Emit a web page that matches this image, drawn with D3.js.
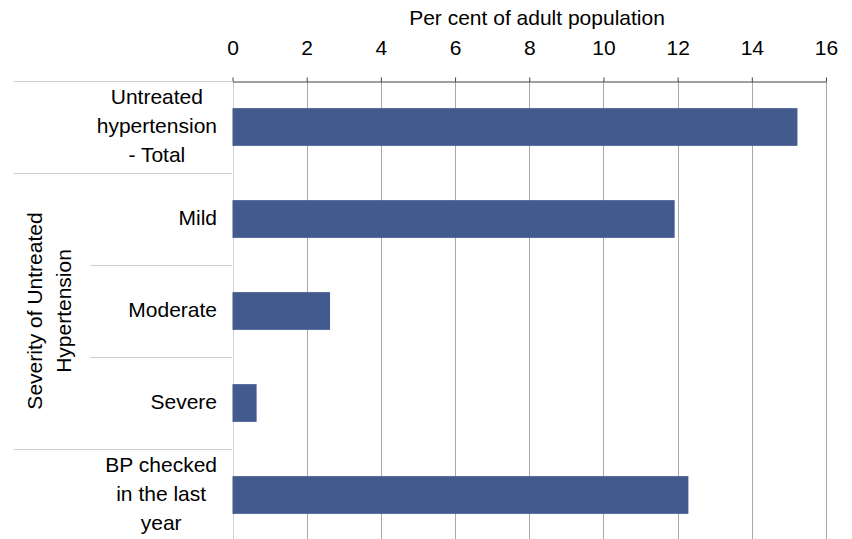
<!DOCTYPE html>
<html>
<head>
<meta charset="utf-8">
<script src="https://cdn.jsdelivr.net/npm/d3@7"></script>
<style>
  body { margin: 0; background: #fff; }
  #chart text { font-family: "Liberation Sans", Arial, sans-serif; fill: #000; }
</style>
</head>
<body>
<div id="chart"></div>
<script>
// || DATA ||
var categories = ["total", "mild", "moderate", "severe", "bp"];
var labelLines = [
  ["Untreated", "hypertension", "- Total"],
  ["Mild"],
  ["Moderate"],
  ["Severe"],
  ["BP checked", "in the last", "year"]
];
var values = [15.23, 11.92, 2.63, 0.65, 12.29];
var tickValues = [0, 2, 4, 6, 8, 10, 12, 14, 16];
var axisTitle = "Per cent of adult population";
var groupLines = ["Severity of Untreated", "Hypertension"];
var groupMembers = ["mild", "moderate", "severe"];

// || LAYOUT ||
var width = 852, height = 539, fontSize = 21;

var svg = d3.select("#chart")
  .append("svg")
    .attr("width", width)
    .attr("height", height);

var x = d3.scaleLinear().domain([0, 16]).range([232.5, 826]);
var y = d3.scaleBand().domain(categories).range([81, 541])
    .paddingInner(0.59).paddingOuter(0.295);

// gridlines
svg.append("g")
  .selectAll("line")
  .data(tickValues)
  .enter().append("line")
    .attr("x1", function(d) { return Math.round(x(d)) + 0.5; })
    .attr("x2", function(d) { return Math.round(x(d)) + 0.5; })
    .attr("y1", 81)
    .attr("y2", 541)
    .attr("stroke", function(d) { return d === 0 ? "#d0d0d0" : "#a8a8a8"; });

// bars
svg.append("g")
  .selectAll("rect")
  .data(values)
  .enter().append("rect")
    .attr("x", x(0))
    .attr("y", function(d, i) { return y(categories[i]); })
    .attr("width", function(d) { return x(d) - x(0); })
    .attr("height", y.bandwidth())
    .attr("fill", "#425a8e");

// top axis
var axis = svg.append("g")
    .attr("transform", "translate(0,81.5)")
    .call(d3.axisTop(x).tickValues(tickValues).tickSize(4).tickSizeOuter(0).tickPadding(23));
axis.select(".domain").attr("stroke", "#404040");
axis.selectAll(".tick line").attr("stroke", "#404040");
axis.selectAll(".tick text")
    .attr("font-size", fontSize)
    .attr("font-family", null);

svg.append("text")
    .attr("x", 537)
    .attr("y", 25)
    .attr("text-anchor", "middle")
    .attr("font-size", fontSize)
    .text(axisTitle);

// row separators
var step = y.step(), top0 = 81;
var seps = [];
categories.forEach(function(c, i) {
  var inner = groupMembers.indexOf(c) > 0;
  seps.push({ y: top0 + i * step, x1: inner ? 90 : 14 });
});
seps.push({ y: top0 + categories.length * step, x1: 14 });

svg.append("g")
  .selectAll("line")
  .data(seps)
  .enter().append("line")
    .attr("x1", function(d) { return d.x1; })
    .attr("x2", 232)
    .attr("y1", function(d) { return Math.round(d.y) + 0.5; })
    .attr("y2", function(d) { return Math.round(d.y) + 0.5; })
    .attr("stroke", "#cfcfcf");

// category labels, lines centred, block right-aligned
var lineH = 29, labelRight = 217;
var labels = svg.append("g")
  .selectAll("text")
  .data(labelLines)
  .enter().append("text")
    .attr("font-size", fontSize)
    .attr("text-anchor", "middle");

labels.each(function(lines, i) {
  var t = d3.select(this);
  var cy = y(categories[i]) + y.bandwidth() / 2;
  lines.forEach(function(l, j) {
    t.append("tspan")
      .attr("y", cy - (lines.length - 1) / 2 * lineH + 6 + j * lineH)
      .text(l);
  });
  var maxW = 0;
  t.selectAll("tspan").each(function() {
    maxW = Math.max(maxW, this.getComputedTextLength());
  });
  t.selectAll("tspan").attr("x", labelRight - maxW / 2);
});

// group label
var gTop = y(groupMembers[0]) - y.step() * y.paddingInner() / 2;
var gBot = y(groupMembers[groupMembers.length - 1]) + y.bandwidth() + y.step() * y.paddingInner() / 2;
var groupText = svg.append("text")
    .attr("transform", "translate(0," + (gTop + gBot) / 2 + ") rotate(-90)")
    .attr("text-anchor", "middle")
    .attr("font-size", fontSize);

groupText.selectAll("tspan")
  .data(groupLines)
  .enter().append("tspan")
    .attr("x", 0)
    .attr("y", function(d, i) { return 42 + i * lineH; })
    .text(function(d) { return d; });
</script>
</body>
</html>
